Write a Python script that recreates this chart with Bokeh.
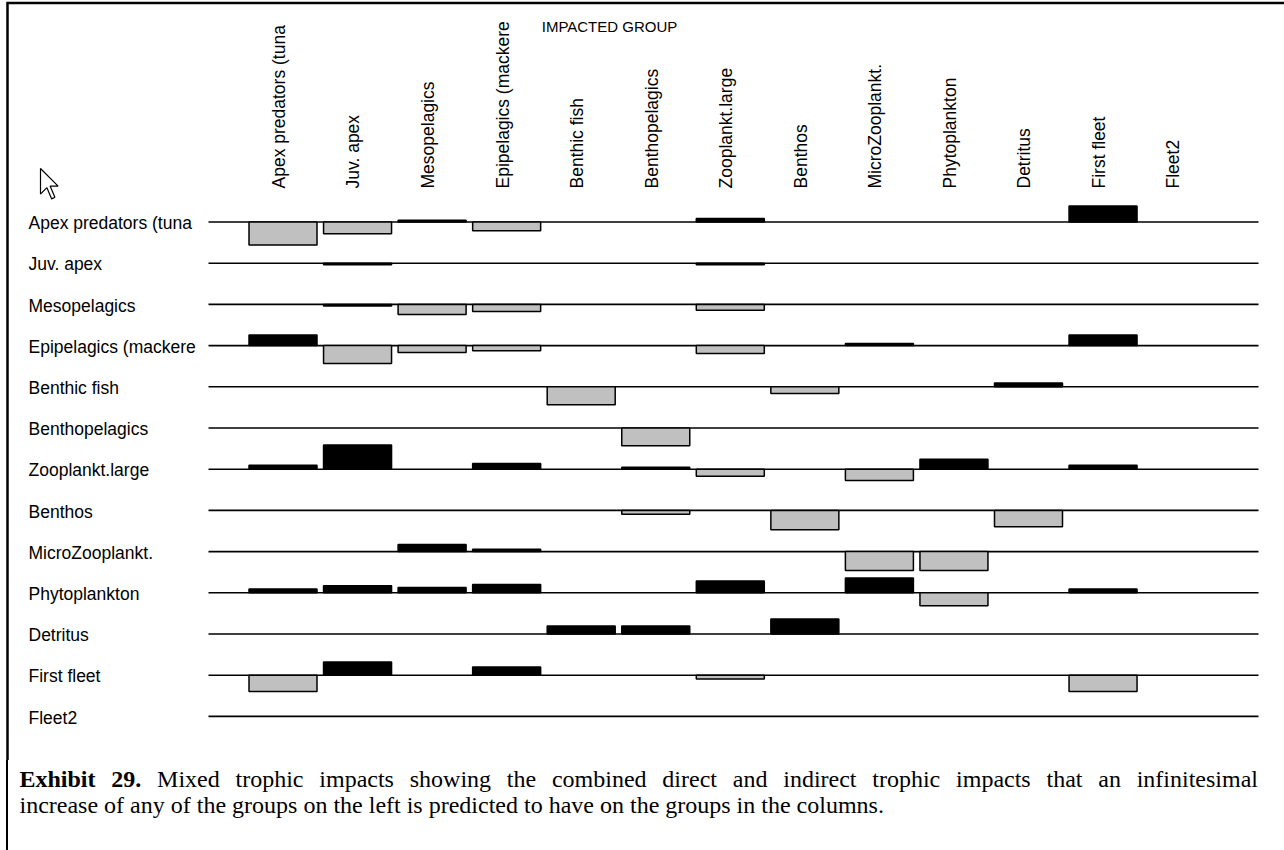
import math

from bokeh.core.properties import value
from bokeh.embed import file_html
from bokeh.layouts import column
from bokeh.models import ColumnDataSource, Div, Range1d
from bokeh.plotting import figure
from bokeh.resources import INLINE

# Functional groups of the model (rows = impacting, columns = impacted)
groups = [
    "Apex predators (tuna", "Juv. apex", "Mesopelagics", "Epipelagics (mackere",
    "Benthic fish", "Benthopelagics", "Zooplankt.large", "Benthos",
    "MicroZooplankt.", "Phytoplankton", "Detritus", "First fleet", "Fleet2",
]

# Mixed trophic impact of each impacting group on every impacted group
apex_tuna      = [-0.92, -0.47, 0.07, -0.35, 0.00, 0.00, 0.14, 0.00, 0.00, 0.00, 0.00, 0.64, 0.00]
juv_apex       = [0.00, -0.06, 0.00, 0.00, 0.00, 0.00, -0.06, 0.00, 0.00, 0.00, 0.00, 0.00, 0.00]
mesopelagics   = [0.00, -0.06, -0.40, -0.28, 0.00, 0.00, -0.23, 0.00, 0.00, 0.00, 0.00, 0.00, 0.00]
epipelagics    = [0.42, -0.72, -0.28, -0.21, 0.00, 0.00, -0.32, 0.00, 0.08, 0.00, 0.00, 0.42, 0.00]
benthic_fish   = [0.00, 0.00, 0.00, 0.00, -0.72, 0.00, 0.00, -0.27, 0.00, 0.00, 0.15, 0.00, 0.00]
benthopelagics = [0.00, 0.00, 0.00, 0.00, 0.00, -0.71, 0.00, 0.00, 0.00, 0.00, 0.00, 0.00, 0.00]
zoopl_large    = [0.16, 0.97, 0.00, 0.23, 0.00, 0.08, -0.28, 0.00, -0.45, 0.40, 0.00, 0.16, 0.00]
benthos        = [0.00, 0.00, 0.00, 0.00, 0.00, -0.15, 0.00, -0.77, 0.00, 0.00, -0.65, 0.00, 0.00]
microzoopl     = [0.00, 0.00, 0.28, 0.09, 0.00, 0.00, 0.00, 0.00, -0.76, -0.76, 0.00, 0.00, 0.00]
phytoplankton  = [0.15, 0.28, 0.21, 0.33, 0.00, 0.00, 0.47, 0.00, 0.59, -0.52, 0.00, 0.15, 0.00]
detritus       = [0.00, 0.00, 0.00, 0.00, 0.32, 0.32, 0.00, 0.60, 0.00, 0.00, 0.00, 0.00, 0.00]
first_fleet    = [-0.65, 0.53, 0.00, 0.33, 0.00, 0.00, -0.15, 0.00, 0.00, 0.00, 0.00, -0.65, 0.00]
fleet2         = [0.00, 0.00, 0.00, 0.00, 0.00, 0.00, 0.00, 0.00, 0.00, 0.00, 0.00, 0.00, 0.00]

impacts = [apex_tuna, juv_apex, mesopelagics, epipelagics, benthic_fish,
           benthopelagics, zoopl_large, benthos, microzoopl, phytoplankton,
           detritus, first_fleet, fleet2]

header = "IMPACTED GROUP"
caption_bold = "Exhibit 29."
caption_line1 = ("Mixed trophic impacts showing the combined direct and indirect "
                 "trophic impacts that an infinitesimal")
caption_line2 = ("increase of any of the groups on the left is predicted to have "
                 "on the groups in the columns.")

# ---- page geometry (pixels) ----
W, FIG_H, CAP_H = 1284, 760, 90
COL0, COL_STEP = 282.5, 74.55      # centre of first column, column pitch
ROW0, ROW_STEP = 221.5, 41.2       # baseline of first row, row pitch
BAR_PX = 25.0                      # bar height for an impact of 1


def dx(px):
    return (px - COL0) / COL_STEP


def dy(py):
    return (py - ROW0) / ROW_STEP


bar_scale = BAR_PX / ROW_STEP
bar_width = 68.0 / COL_STEP

p = figure(
    width=W, height=FIG_H,
    x_range=Range1d(dx(0), dx(W)),
    y_range=Range1d(dy(FIG_H), dy(0)),
    x_axis_location=None, y_axis_location=None,
    toolbar_location=None, output_backend="svg",
    min_border=0, outline_line_color=None,
    background_fill_color="white", border_fill_color="white",
)
p.grid.visible = False

n_rows, n_cols = len(impacts), len(groups)

# baselines of every impacting group
p.segment(x0=[dx(208)] * n_rows, x1=[dx(1258)] * n_rows,
          y0=list(range(n_rows)), y1=list(range(n_rows)),
          line_color="black", line_width=1.6)

# bars: black above the line for positive, grey below for negative impacts
xs, tops, bottoms, fills = [], [], [], []
for j, row in enumerate(impacts):
    for i, v in enumerate(row):
        if v == 0:
            continue
        xs.append(i)
        tops.append(j - v * bar_scale)
        bottoms.append(j)
        fills.append("black" if v > 0 else "#c0c0c0")
src = ColumnDataSource(dict(x=xs, top=tops, bottom=bottoms, fill=fills))
p.vbar(x="x", top="top", bottom="bottom", width=bar_width, source=src,
       fill_color="fill", line_color="black", line_width=1.5)

label_font = value("Liberation Sans")

# impacting group names on the left
p.text(x=[dx(28)] * n_rows, y=[j + 0.03 for j in range(n_rows)], text=groups,
       text_font=label_font, text_font_size="17.5px", text_color="black",
       text_align="left", text_baseline="middle")

# impacted group names, written upwards above each column
p.text(x=[i - 0.055 for i in range(n_cols)], y=[dy(188)] * n_cols, text=groups,
       angle=math.pi / 2, text_font=label_font, text_font_size="17.5px",
       text_color="black", text_align="left", text_baseline="middle")

p.text(x=[dx(609)], y=[dy(26)], text=[header], text_font=label_font,
       text_font_size="15px", text_color="black",
       text_align="center", text_baseline="middle")

# mouse pointer left on the screen
cur = [(0, 0), (0, 25.6), (6.4, 19.2), (11.2, 30.4), (14.4, 28.8), (9.6, 17.6), (17.6, 17.6)]
p.patch(x=[dx(40 + a) for a, b in cur], y=[dy(168 + b) for a, b in cur],
        fill_color="white", line_color="black", line_width=1.2)

# frame around the exhibit (top and left edges)
p.segment(x0=[dx(7), dx(6)], x1=[dx(7), dx(W)], y0=[dy(2), dy(2.5)],
          y1=[dy(FIG_H), dy(2.5)], line_color="black", line_width=2.5)

cap_html = (
    '<div style="box-sizing:border-box;width:1278px;height:%dpx;margin-left:6px;'
    'border-left:2.5px solid #000;padding:6px 26px 0 11.5px;'
    "font-family:'Liberation Serif',serif;font-size:24px;line-height:26px;color:#000;\">"
    '<div style="text-align:justify;text-align-last:justify;white-space:nowrap;">'
    '<b>%s</b> %s</div><div>%s</div></div>'
) % (CAP_H, caption_bold, caption_line1, caption_line2)
cap = Div(text=cap_html, width=W, height=CAP_H, margin=0)

layout = column(p, cap, spacing=0)
open("out.html", "w").write(file_html(layout, INLINE))
